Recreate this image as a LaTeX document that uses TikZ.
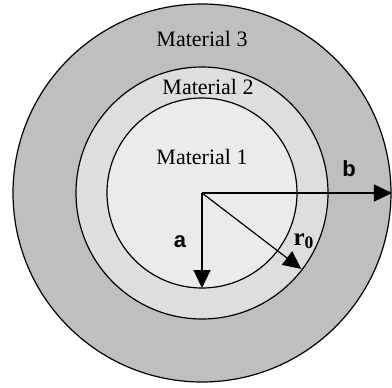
\documentclass[tikz,border=0pt]{standalone}
\usepackage{fontspec}
\setmainfont{Liberation Serif}
\setsansfont{Liberation Sans}
\usetikzlibrary{arrows.meta}
\begin{document}
\begin{tikzpicture}[x=0.5pt,y=0.5pt,font=\fontsize{11}{13}\selectfont,
  ring/.style={draw=black,line width=0.6pt},
  radius arrow/.style={line width=0.6pt,-{Triangle[length=9pt,width=8.5pt]}},
  label/.style={font=\fontsize{11}{13}\selectfont\sffamily\bfseries}]
\useasboundingbox (-202,-194) rectangle (190,193);
\coordinate (o) at (0,0);
\filldraw[ring,fill=black!25] (o) circle (189);
\filldraw[ring,fill=black!13] (o) circle (126);
\filldraw[ring,fill=black!8] (o) circle (95);
\node (m3) at (0,154) {Material 3};
\node (m2) at (6,106) {Material 2};
\node (m1) at (0,36) {Material 1};
\coordinate (a end) at (0,-95);
\coordinate (r end) at (-37.4:125);
\coordinate (b end) at (190,0);
\draw[radius arrow] (o) -- (a end);
\draw[radius arrow] (o) -- (r end);
\draw[radius arrow] (o) -- (b end);
\node[label] (a) at (-22,-49) {a};
\node[label] (b) at (147,24) {b};
\node[font=\fontsize{12.5}{14}\selectfont] (r) at (102,-48) {$\mathbf{r_0}$};
\end{tikzpicture}
\end{document}
